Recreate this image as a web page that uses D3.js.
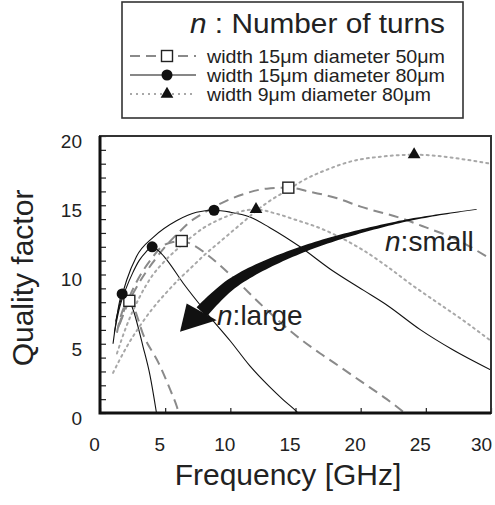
<!DOCTYPE html>
<html>
<head>
<meta charset="utf-8">
<script src="https://cdn.jsdelivr.net/npm/d3@7"></script>
<style>
  body { margin: 0; background: #fff; }
  svg { display: block; font-family: "Liberation Sans", Arial, sans-serif; }
</style>
</head>
<body>
<svg id="chart" width="495" height="505"></svg>
<script>
// Q vs frequency, one curve per number of turns
// width 15um / diameter 50um  (dashed, squares)
const w15d50 = [
  [[1.3,5.8],[1.6,7.0],[2.0,7.9],[2.25,8.1],[2.6,7.6],[3.3,5.7],[4.5,3.6],[5.4,1.65],[5.9,0.45],[6.2,-0.5]],
  [[1.4,6.2],[2.0,7.8],[3.0,9.8],[4.0,11.2],[4.6,11.9],[5.6,12.35],[6.27,12.42],[7.0,12.2],[8.4,11.3],[10.2,9.8],[12.5,7.7],[14.5,6.0],[16.9,4.3],[18.0,3.6],[20.0,2.3],[22.0,1.0],[23.8,-0.3]],
  [[1.5,6.4],[2.0,7.6],[3.0,9.4],[4.0,10.8],[5.0,12.0],[6.0,13.0],[6.9,13.8],[7.7,14.3],[9.2,15.1],[11.0,15.8],[12.8,16.2],[14.45,16.27],[16.0,16.0],[18.2,15.5],[20.0,14.9],[23.3,14.0],[25.0,13.4],[27.4,12.5],[30.0,11.1]]
];
// width 15um / diameter 80um  (solid, circles)
const w15d80 = [
  [[1.0,5.0],[1.3,7.0],[1.7,8.6],[2.1,8.4],[2.56,7.4],[3.3,4.8],[3.84,2.7],[4.3,0.2],[4.5,-1]],
  [[1.1,5.8],[1.5,7.6],[2.0,9.0],[2.5,10.1],[3.0,11.0],[3.5,11.6],[4.0,12.0],[4.5,11.7],[5.0,11.2],[6.4,9.35],[8.2,7.2],[10.0,5.2],[11.5,3.4],[13.0,1.9],[14.0,1.0],[15.2,0],[15.6,-0.4]],
  [[1.2,6.6],[1.5,7.8],[2.05,9.6],[2.8,11.3],[4.1,12.7],[5.9,13.9],[7.4,14.5],[8.75,14.64],[10.0,14.5],[11.5,14.15],[13.0,13.4],[15.35,12.0],[17.65,10.4],[20.2,8.87],[22.0,7.8],[24.6,6.0],[27.0,4.6],[30.0,3.1]]
];
// width 9um / diameter 80um  (dotted, triangles)
const w9d80 = [
  [[1.3,4.3],[2,6.2],[3,8.3],[4,9.9],[5,11.0],[6,11.9],[7,12.7],[8,13.4],[9,13.9],[10,14.3],[11,14.6],[11.97,14.7],[13.3,14.45],[15,13.95],[17,13.3],[19,12.4],[20.2,11.75],[22,10.6],[24,9.2],[26,7.9],[28,6.6],[30,5.2]],
  [[1.0,2.9],[2,4.7],[3,6.2],[4,7.5],[5,8.6],[6,9.6],[7,10.5],[8,11.4],[9,12.2],[10,13.0],[11,13.8],[12,14.6],[13,15.3],[14.4,16.1],[15.6,16.8],[17.5,17.6],[19.4,18.2],[21.5,18.5],[24.1,18.65],[26,18.55],[28,18.3],[30,18.0]]
];

const xTicks = [0, 5, 10, 15, 20, 25, 30];
const yTicks = [0, 5, 10, 15, 20];
const legendLabels = ["width 15\u03bcm diameter 50\u03bcm", "width 15\u03bcm diameter 80\u03bcm", "width 9\u03bcm diameter 80\u03bcm"];

// arrow annotation (data units): body centreline from tail to head base, then head triangle
const arrowBody = [[28.9,14.7],[23.0,13.8],[15.35,11.75],[10.2,9.4],[7.8,7.3]];
const arrowHead = [[6.14,5.86],[6.65,7.9],[8.95,6.7]];

const svg = d3.select('#chart');
const x = d3.scaleLinear().domain([0, 30]).range([100, 491]);
const y = d3.scaleLinear().domain([0, 20]).range([413, 136]);

const series = [
  { curves: w15d50, stroke: '#8a8a8a', width: 2, dash: '10,6', marker: 'square' },
  { curves: w15d80, stroke: '#111', width: 1.1, dash: null, marker: 'circle' },
  { curves: w9d80, stroke: '#a8a8a8', width: 2, dash: '2,4', marker: 'triangle' }
];

svg.append('clipPath').attr('id', 'plot-clip')
  .append('rect').attr('x', 100).attr('y', 136).attr('width', 391).attr('height', 277);

// axes: ticks point inward
const yAxis = d3.axisLeft(y).tickValues(d3.range(0, 21)).tickSizeInner(-6).tickSizeOuter(0).tickPadding(18)
  .tickFormat(d => yTicks.includes(d) ? d : '');
const gy = svg.append('g').attr('transform', 'translate(100,0)').call(yAxis);
gy.select('.domain').remove();
gy.selectAll('line').attr('stroke', '#222').attr('stroke-width', 1.2);
gy.selectAll('text').attr('font-size', 19).attr('fill', '#222').attr('dy', '0.6em')
  .attr('font-family', '"Liberation Sans", Arial, sans-serif');

const xAxis = d3.axisBottom(x).tickValues(xTicks).tickSizeInner(-5).tickSizeOuter(0).tickPadding(25);
const gx = svg.append('g').attr('transform', 'translate(0,413)').call(xAxis);
gx.select('.domain').remove();
gx.selectAll('line').attr('stroke', '#222').attr('stroke-width', 1.2);
gx.selectAll('text').attr('font-size', 19).attr('fill', '#222').attr('dx', d => d === 30 ? -10 : -6)
  .attr('font-family', '"Liberation Sans", Arial, sans-serif');

// curves
const line = d3.line().x(d => x(d[0])).y(d => y(d[1])).curve(d3.curveMonotoneX);
const plot = svg.append('g').attr('clip-path', 'url(#plot-clip)');
series.forEach(s => {
  plot.selectAll(null).data(s.curves).join('path')
    .attr('d', line)
    .attr('fill', 'none')
    .attr('stroke', s.stroke)
    .attr('stroke-width', s.width)
    .attr('stroke-dasharray', s.dash)
    .attr('stroke-linecap', s.marker === 'triangle' ? 'round' : 'butt');
});

// arrow: tapered body + head
(function drawArrow() {
  const pts = arrowBody.map(d => [x(d[0]), y(d[1])]);
  const tmp = svg.append('path').attr('d', d3.line().curve(d3.curveCatmullRom)(pts)).attr('fill', 'none');
  const node = tmp.node();
  const L = node.getTotalLength();
  const n = 80;
  const samples = d3.range(n + 1).map(i => node.getPointAtLength(L * i / n));
  tmp.remove();
  const left = [], right = [];
  samples.forEach((p, i) => {
    const a = samples[Math.max(0, i - 1)], b = samples[Math.min(n, i + 1)];
    let dx = b.x - a.x, dy = b.y - a.y;
    const len = Math.hypot(dx, dy) || 1;
    const nx = -dy / len, ny = dx / len;
    const t = i / n;
    const w = (0.8 + 13 * Math.pow(t, 1.6)) / 2;
    left.push([p.x + nx * w, p.y + ny * w]);
    right.push([p.x - nx * w, p.y - ny * w]);
  });
  const poly = left.concat(right.reverse());
  svg.append('path').attr('d', 'M' + poly.map(p => p.join(',')).join('L') + 'Z').attr('fill', '#111');
  svg.append('path')
    .attr('d', 'M' + arrowHead.map(d => [x(d[0]), y(d[1])].join(',')).join('L') + 'Z')
    .attr('fill', '#111');
})();

// markers at the peak of each curve
function drawMarker(g, type, cx, cy) {
  if (type === 'square') {
    g.append('rect').attr('x', cx - 5.5).attr('y', cy - 5.5).attr('width', 11).attr('height', 11)
      .attr('fill', '#fff').attr('stroke', '#222').attr('stroke-width', 1.4);
  } else if (type === 'circle') {
    g.append('circle').attr('cx', cx).attr('cy', cy).attr('r', 5.5).attr('fill', '#111');
  } else {
    g.append('path').attr('d', d3.symbol(d3.symbolTriangle, 70)()).attr('transform', `translate(${cx},${cy})`)
      .attr('fill', '#111');
  }
}
const markers = svg.append('g');
series.forEach(s => {
  s.curves.forEach(c => {
    const pk = d3.greatest(c, d => d[1]);
    drawMarker(markers, s.marker, x(pk[0]), y(pk[1]));
  });
});

// frame
svg.append('rect').attr('x', 100).attr('y', 136).attr('width', 391).attr('height', 277)
  .attr('fill', 'none').attr('stroke', '#333').attr('stroke-width', 2);
svg.append('path').attr('d', `M100,136V413H491`).attr('fill', 'none').attr('stroke', '#111').attr('stroke-width', 3);

// annotations
function nLabel(txt, pos) {
  const t = svg.append('text').attr('x', x(pos[0])).attr('y', y(pos[1])).attr('font-size', 28).attr('fill', '#222');
  t.append('tspan').attr('font-style', 'italic').text('n');
  t.append('tspan').text(txt);
}
nLabel(':small', [21.87, 11.68]);
nLabel(':large', [8.98, 6.34]);

// axis titles
svg.append('text').attr('x', 288).attr('y', 485).attr('text-anchor', 'middle')
  .attr('font-size', 30).attr('fill', '#222').text('Frequency [GHz]');
svg.append('text').attr('transform', 'translate(33,278) rotate(-90)').attr('text-anchor', 'middle')
  .attr('font-size', 30).attr('fill', '#222').text('Quality factor');

// legend
const lg = svg.append('g');
lg.append('rect').attr('x', 122).attr('y', 2).attr('width', 341).attr('height', 116)
  .attr('fill', '#fff').attr('stroke', '#333').attr('stroke-width', 1.6);
const title = lg.append('text').attr('x', 190).attr('y', 33)
  .attr('font-size', 27).attr('fill', '#222')
  .attr('textLength', 255).attr('lengthAdjust', 'spacingAndGlyphs');
title.append('tspan').attr('font-style', 'italic').text('n');
title.append('tspan').text(' : Number of turns');
series.forEach((s, i) => {
  const cy = 56 + i * 19;
  lg.append('line').attr('x1', 130).attr('x2', 196).attr('y1', cy).attr('y2', cy)
    .attr('stroke', s.stroke).attr('stroke-width', s.width).attr('stroke-dasharray', s.dash);
  drawMarker(lg, s.marker, 167, cy);
  lg.append('text').attr('x', 207).attr('y', cy + 6.5).attr('font-size', 18.5).attr('fill', '#222')
    .attr('textLength', i === 2 ? 224 : 238).attr('lengthAdjust', 'spacingAndGlyphs')
    .text(legendLabels[i]);
});
</script>
</body>
</html>
